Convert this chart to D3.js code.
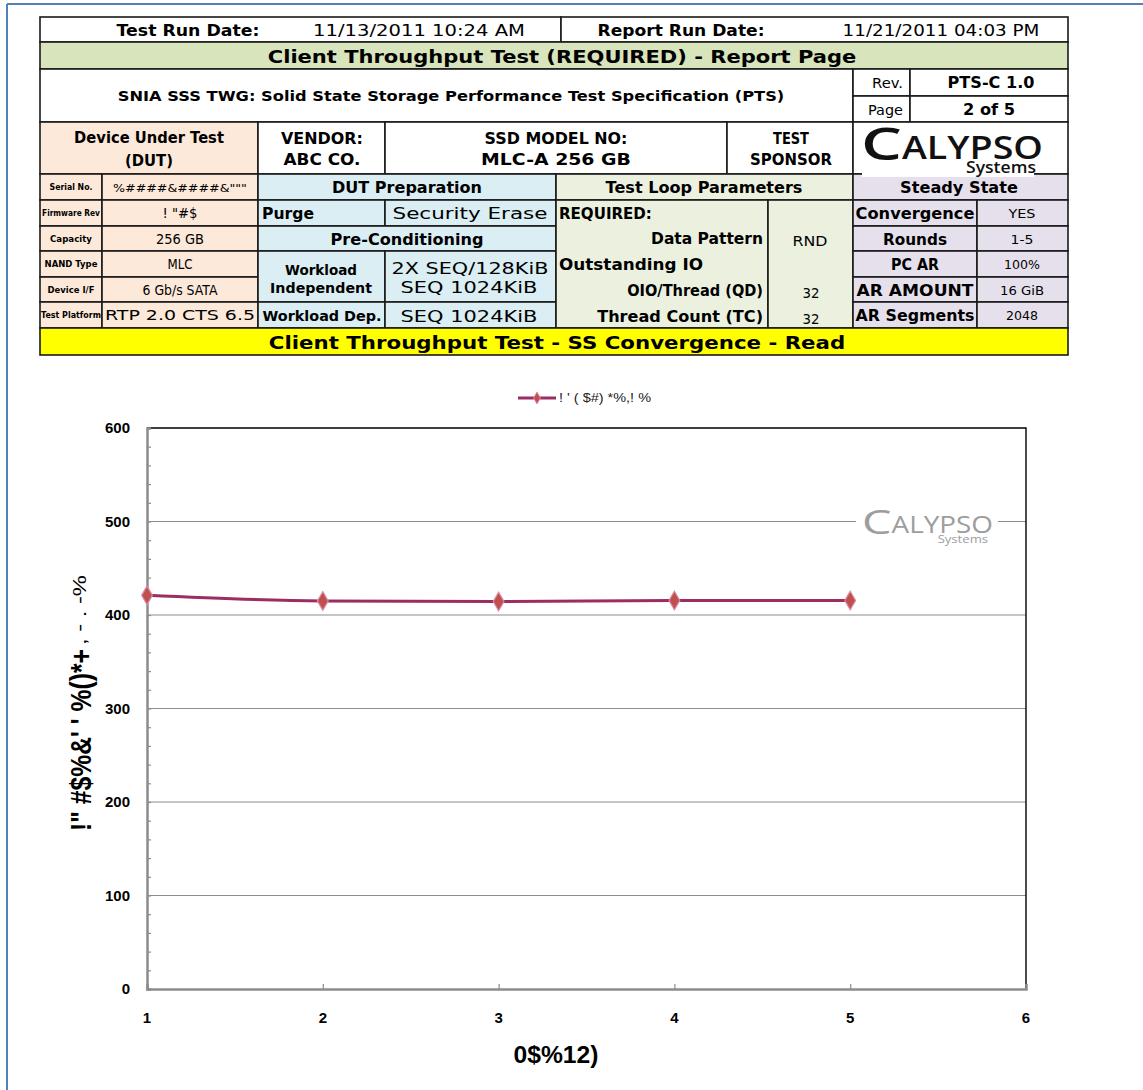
<!DOCTYPE html>
<html>
<head>
<meta charset="utf-8">
<script src="https://cdnjs.cloudflare.com/ajax/libs/d3/7.8.5/d3.min.js"></script>
<style>
  body { margin: 0; background: #fff; }
  svg { display: block; }
  .tbl text { font-family: "DejaVu Sans", Verdana, sans-serif; fill: #000; }
  .chart text { font-family: "Liberation Sans", Arial, sans-serif; }
</style>
</head>
<body>
<div id="page"></div>
<script>
// chart data
var rounds = [1, 2, 3, 4, 5];
var throughput = [421, 415, 414.5, 415.5, 415.5];
var yTicks = [0, 100, 200, 300, 400, 500, 600];
var xTicks = [1, 2, 3, 4, 5, 6];
var legendLabel = "! ' ( $#) *%,! %";
var yLabelMain = "!\" #$%&' ' %()*+";
var yLabelTail = ", - . -%";
var xLabel = "0$%12)";

// report header texts
var dutLabels = ["Serial No.", "Firmware Rev", "Capacity", "NAND Type", "Device I/F", "Test Platform"];
var dutValues = ["%####&####&\"\"\"", "! \"#$", "256 GB", "MLC", "6 Gb/s SATA", "RTP 2.0 CTS 6.5"];
var ssLabels = ["Convergence", "Rounds", "PC AR", "AR AMOUNT", "AR Segments"];
var ssValues = ["YES", "1-5", "100%", "16 GiB", "2048"];

var W = 1143, H = 1090;
var svg = d3.select("#page").append("svg").attr("width", W).attr("height", H);

// page frame
svg.append("line").attr("x1", 7).attr("x2", W).attr("y1", 4).attr("y2", 4)
  .attr("stroke", "#4f81bd").attr("stroke-width", 2);
svg.append("line").attr("x1", 7).attr("x2", 7).attr("y1", 4).attr("y2", H)
  .attr("stroke", "#4f81bd").attr("stroke-width", 2);

// ---------- table ----------
var peach = "#fde9d9", blue = "#daeef3", green = "#ebf1de", lav = "#e5e0ec",
    title = "#d7e4bc", yellow = "#ffff00";

var R = [17, 42, 69, 96, 122, 174, 200, 226, 251, 277, 302, 328, 355];
var tbl = svg.append("g").attr("class", "tbl");

function box(x0, x1, y0, y1, fill) {
  tbl.append("rect").attr("x", x0).attr("y", y0).attr("width", x1 - x0).attr("height", y1 - y0)
    .attr("fill", fill || "#fff").attr("stroke", "#1a1a1a").attr("stroke-width", 1.6);
}
// text stretched sideways to the width w it takes in the report
function txt(x, y, s, opt) {
  opt = opt || {};
  var t = (opt.g || tbl).append("text").text(s)
    .attr("text-anchor", opt.a || "middle")
    .attr("font-size", opt.s || 15)
    .attr("font-weight", opt.b ? "bold" : (opt.wt || "normal"));
  if (opt.f) t.style("font-family", opt.f);
  if (opt.c) t.style("fill", opt.c);
  var sx = opt.w ? opt.w / t.node().getComputedTextLength() : 1;
  t.attr("transform", "translate(" + x + "," + y + ") scale(" + sx + ",1)");
  return t;
}

// row 1
box(40, 561, R[0], R[1]); box(561, 1068, R[0], R[1]);
txt(188, 36, "Test Run Date:", {b: 1, s: 16, w: 143});
txt(419, 36, "11/13/2011 10:24 AM", {s: 16, w: 212});
txt(681, 36, "Report Run Date:", {b: 1, s: 16, w: 167});
txt(941, 36, "11/21/2011 04:03 PM", {s: 16, w: 197});
// row 2
box(40, 1068, R[1], R[2], title);
txt(562, 63, "Client Throughput Test (REQUIRED) - Report Page", {b: 1, s: 18, w: 589});
// row 3
box(40, 853, R[2], R[4]);
txt(451, 101, "SNIA SSS TWG:  Solid State Storage Performance Test Specification (PTS)", {b: 1, s: 14, w: 667});
box(853, 910, R[2], R[3]); box(910, 1068, R[2], R[3]);
box(853, 910, R[3], R[4]); box(910, 1068, R[3], R[4]);
txt(903, 88, "Rev.", {a: "end", s: 14, w: 31});
txt(991, 88, "PTS-C 1.0", {b: 1, s: 15, w: 87});
txt(903, 115, "Page", {a: "end", s: 14, w: 35});
txt(989, 115, "2 of 5", {b: 1, s: 15, w: 52});
// row 4
box(40, 258, R[4], R[5], peach);
txt(149, 143, "Device Under Test", {b: 1, s: 16, w: 150});
txt(149, 166, "(DUT)", {b: 1, s: 16, w: 48});
box(258, 385, R[4], R[5]);
txt(322, 144, "VENDOR:", {b: 1, s: 15, w: 82});
txt(322, 165, "ABC CO.", {b: 1, s: 15, w: 77});
box(385, 727, R[4], R[5]);
txt(556, 144, "SSD MODEL NO:", {b: 1, s: 15, w: 143});
txt(556, 165, "MLC-A 256 GB", {b: 1, s: 15, w: 150});
box(727, 853, R[4], R[5]);
txt(791, 144, "TEST", {b: 1, s: 15, w: 36});
txt(791, 165, "SPONSOR", {b: 1, s: 15, w: 82});
box(853, 1068, R[4], R[5]);

// DUT column
var dutLabelW = [43, 58, 42, 53, 47, 60];
var dutValueW = [134, 35, 48, 25, 75, 150];
dutLabels.forEach(function(l, i) {
  var y0 = R[5 + i], y1 = R[6 + i];
  box(40, 102, y0, y1, peach); box(102, 258, y0, y1, peach);
  txt(71, y0 + 16, l, {b: 1, s: 9.5, w: dutLabelW[i]});
  txt(180, y0 + 18, dutValues[i], {s: i == 0 ? 11 : 14, w: dutValueW[i]});
});

// DUT preparation
box(258, 556, R[5], R[6], blue);
txt(407, R[5] + 19, "DUT Preparation", {b: 1, s: 15, w: 150});
box(258, 385, R[6], R[7], blue); box(385, 556, R[6], R[7], blue);
txt(262, R[6] + 19, "Purge", {b: 1, s: 15, a: "start", w: 52});
txt(470, R[6] + 19, "Security Erase", {s: 15, w: 155});
box(258, 556, R[7], R[8], blue);
txt(407, R[7] + 19, "Pre-Conditioning", {b: 1, s: 15, w: 153});
box(258, 385, R[8], R[10], blue); box(385, 556, R[8], R[10], blue);
txt(321, 275, "Workload", {b: 1, s: 14, w: 72});
txt(321, 293, "Independent", {b: 1, s: 14, w: 102});
txt(470, 274, "2X SEQ/128KiB", {s: 15, w: 157});
txt(469, 293, "SEQ 1024KiB", {s: 15, w: 137});
box(258, 385, R[10], R[11], blue); box(385, 556, R[10], R[11], blue);
txt(322, 321, "Workload Dep.", {b: 1, s: 14, w: 119});
txt(469, 322, "SEQ 1024KiB", {s: 15, w: 137});

// Test loop parameters
box(556, 853, R[5], R[6], green);
txt(704, R[5] + 19, "Test Loop Parameters", {b: 1, s: 15, w: 197});
box(556, 768, R[6], R[11], green); box(768, 853, R[6], R[11], green);
txt(559, 219, "REQUIRED:", {b: 1, s: 15, a: "start", w: 93});
txt(763, 244, "Data Pattern", {b: 1, s: 15, a: "end", w: 112});
txt(810, 246, "RND", {s: 14, w: 35});
txt(559, 270, "Outstanding IO", {b: 1, s: 15, a: "start", w: 144});
txt(763, 296, "OIO/Thread (QD)", {b: 1, s: 15, a: "end", w: 136});
txt(811, 298, "32", {s: 14, w: 17});
txt(763, 322, "Thread Count (TC)", {b: 1, s: 15, a: "end", w: 166});
txt(811, 324, "32", {s: 14, w: 17});

// Steady state
box(853, 1068, R[5], R[6], lav);
txt(959, R[5] + 19, "Steady State", {b: 1, s: 15, w: 118});
var ssLabelW = [119, 64, 48, 117, 119];
var ssValueW = [27, 23, 36, 44, 32];
ssLabels.forEach(function(l, i) {
  var y0 = R[6 + i], y1 = R[7 + i];
  box(853, 977, y0, y1, lav); box(977, 1068, y0, y1, lav);
  txt(915, y0 + 19, l, {b: 1, s: 15, w: ssLabelW[i]});
  txt(1022, y0 + 18, ssValues[i], {s: 12, w: ssValueW[i]});
});

// banner
box(40, 1068, R[11], R[12], yellow);
txt(557, 349, "Client Throughput Test - SS Convergence - Read", {b: 1, s: 18, w: 577});

// logo
function logo(g, x, y, col, k, wt) {
  var f = "'Open Sans', sans-serif";
  txt(x, y + k, "C", {g: g, a: "start", s: 46 * k, w: 41 * k, f: f, c: col, wt: wt});
  txt(x + 41 * k, y, "ALYPSO", {g: g, a: "start", s: 32 * k, w: 141 * k, f: f, c: col, wt: wt});
  txt(x + 175 * k, y + 14 * k, "Systems", {g: g, a: "end", s: 16 * k, w: 70 * k, f: f, c: col, wt: wt});
}
tbl.append("rect").attr("x", 862).attr("y", 170).attr("width", 172).attr("height", 7).attr("fill", "#fff");
logo(tbl, 861, 159, "#111", 1, 600);

// ---------- chart ----------
var chart = svg.append("g").attr("class", "chart");
var x = d3.scaleLinear().domain([1, 6]).range([147, 1026]);
var y = d3.scaleLinear().domain([0, 600]).range([989, 428]);

// gridlines
chart.selectAll(".grid").data(yTicks.filter(function(d){ return d > 0 && d < 600; }))
  .enter().append("line")
  .attr("x1", x(1)).attr("x2", x(6))
  .attr("y1", function(d){ return y(d); }).attr("y2", function(d){ return y(d); })
  .attr("stroke", "#8c8c8c").attr("stroke-width", 1.2);

// frame top/right
chart.append("path")
  .attr("d", "M" + x(1) + "," + y(600) + "H" + x(6) + "V" + y(0))
  .attr("fill", "none").attr("stroke", "#000").attr("stroke-width", 1.4);

// watermark
var wm = chart.append("g");
wm.append("rect").attr("x", 856).attr("y", 505).attr("width", 142).attr("height", 40).attr("fill", "#fff");
logo(wm, 862, 533, "#9d9d9d", 0.72, 400);

// y axis with minor ticks
var yAxis = d3.axisRight(y).tickValues(d3.range(0, 601, 20)).tickSize(4).tickFormat("");
var yg = chart.append("g").attr("transform", "translate(" + x(1) + ",0)").call(yAxis);
yg.select(".domain").attr("stroke", "#8c8c8c").attr("stroke-width", 2.5);
yg.selectAll(".tick line").attr("stroke", "#8c8c8c").attr("stroke-width", 1.2);

chart.selectAll(".ylab").data(yTicks).enter().append("text")
  .attr("x", 130).attr("y", function(d){ return y(d) + 5; })
  .attr("text-anchor", "end").attr("font-size", 15).attr("font-weight", "bold")
  .text(function(d){ return d; });

// x axis
var xAxis = d3.axisTop(x).tickValues(xTicks).tickSize(5).tickFormat("");
var xg = chart.append("g").attr("transform", "translate(0," + y(0) + ")").call(xAxis);
xg.select(".domain").attr("stroke", "#8c8c8c").attr("stroke-width", 2.5);
xg.selectAll(".tick line").attr("stroke", "#8c8c8c").attr("stroke-width", 1.2);

chart.selectAll(".xlab").data(xTicks).enter().append("text")
  .attr("x", function(d){ return x(d); }).attr("y", 1023)
  .attr("text-anchor", "middle").attr("font-size", 15).attr("font-weight", "bold")
  .text(function(d){ return d; });

// axis titles
chart.append("text").attr("x", 556).attr("y", 1063).attr("text-anchor", "middle")
  .attr("font-size", 23).attr("font-weight", "bold")
  .attr("textLength", 85).attr("lengthAdjust", "spacingAndGlyphs").text(xLabel);
chart.append("text").attr("transform", "translate(91,831) rotate(-90)")
  .attr("font-size", 29).attr("font-weight", "bold")
  .attr("textLength", 182).attr("lengthAdjust", "spacingAndGlyphs").text(yLabelMain);
chart.append("text").attr("transform", "translate(86,645) rotate(-90)")
  .attr("font-size", 19)
  .attr("textLength", 70).attr("lengthAdjust", "spacingAndGlyphs").text(yLabelTail);

// series
var lineCol = "#9b2d62", markCol = "#c0504d";
var pts = rounds.map(function(r, i){ return [r, throughput[i]]; });
chart.append("path").datum(pts)
  .attr("d", d3.line().x(function(d){ return x(d[0]); }).y(function(d){ return y(d[1]); }).curve(d3.curveMonotoneX))
  .attr("fill", "none").attr("stroke", lineCol).attr("stroke-width", 3);
var diamond = d3.symbol().type(d3.symbolDiamond).size(100);
chart.selectAll(".pt").data(pts).enter().append("path")
  .attr("d", diamond)
  .attr("transform", function(d){ return "translate(" + x(d[0]) + "," + y(d[1]) + ")"; })
  .attr("fill", markCol).attr("stroke", "#d98aa6").attr("stroke-width", 1.2);

// legend
var lg = chart.append("g").attr("transform", "translate(518,398)");
lg.append("line").attr("x1", 0).attr("x2", 38).attr("stroke", lineCol).attr("stroke-width", 3);
lg.append("path").attr("d", d3.symbol().type(d3.symbolDiamond).size(40))
  .attr("transform", "translate(19,0)").attr("fill", markCol).attr("stroke", "#d98aa6");
lg.append("text").attr("x", 41).attr("y", 4).attr("font-size", 12).attr("fill", "#222")
  .attr("textLength", 92).attr("lengthAdjust", "spacingAndGlyphs").text(legendLabel);
</script>
</body>
</html>
